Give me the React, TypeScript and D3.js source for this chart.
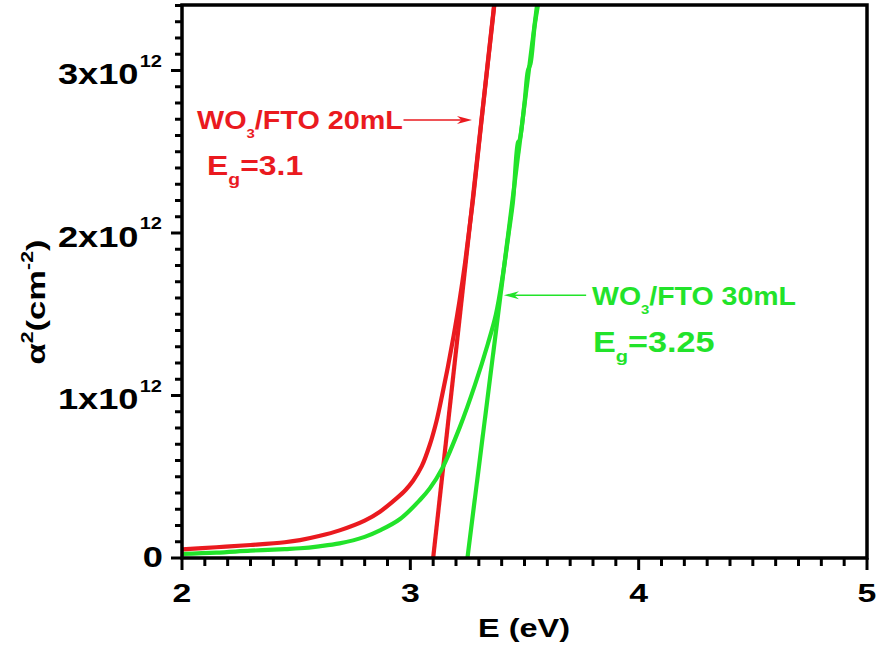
import React from "react";
import * as d3 from "d3";

// Absorption-edge (Tauc) data: photon energy E (eV) and alpha^2 (units of 1e12 cm^-2)
const redE = [2.0, 2.15, 2.3, 2.45, 2.517, 2.6, 2.69, 2.8, 2.867, 2.942, 2.98, 3.012, 3.05, 3.086, 3.115, 3.139, 3.165, 3.19, 3.215, 3.24, 3.274, 3.31, 3.37];
const redA = [0.053, 0.066, 0.08, 0.097, 0.11, 0.135, 0.17, 0.23, 0.285, 0.37, 0.42, 0.475, 0.565, 0.7, 0.845, 1.0, 1.18, 1.37, 1.58, 1.82, 2.2, 2.67, 3.43];

const greenE = [2.0, 2.15, 2.3, 2.45, 2.517, 2.6, 2.69, 2.8, 2.867, 2.955, 3.042, 3.086, 3.139, 3.218, 3.283, 3.34, 3.375, 3.405, 3.43, 3.45, 3.472, 3.478, 3.5, 3.515, 3.526, 3.545, 3.565];
const greenA = [0.025, 0.033, 0.045, 0.055, 0.06, 0.072, 0.09, 0.13, 0.17, 0.24, 0.357, 0.43, 0.55, 0.81, 1.065, 1.32, 1.5, 1.74, 1.99, 2.2, 2.56, 2.57, 2.8, 3.0, 3.04, 3.28, 3.45];

// Linear extrapolations to the energy axis (band gap)
const redFitE = [3.1, 3.367];
const redFitA = [0, 3.403];
const greenFitE = [3.25, 3.555];
const greenFitA = [0, 3.403];

// Axes
const xDomain = [2, 5];
const yDomain = [0, 3.403];
const xMajorTicks = [2, 3, 4, 5];
const xTickLabels = ["2", "3", "4", "5"];
const yMajorTicks = [0, 1, 2, 3];
const yTickLabels = ["0", "1x10", "2x10", "3x10"];
const yTickExponents = ["", "12", "12", "12"];

// Annotations
const redLabel = "20mL";
const redGap = "3.1";
const greenLabel = "30mL";
const greenGap = "3.25";
const redArrow = { from: [2.97, 2.695], to: [3.27, 2.695] };
const greenArrow = { from: [3.77, 1.617], to: [3.41, 1.617] };

const RED = "#ea1a1f";
const GREEN = "#22e32a";
const FONT = "'Liberation Sans', Arial, sans-serif";

const W = 878;
const H = 646;
const plot = { left: 182, right: 867, top: 5, bottom: 558 };

function zip(es: number[], as: number[]) {
  return es.map((e, i) => [e, as[i]] as [number, number]);
}

export default function App() {
  const x = d3.scaleLinear().domain(xDomain).range([plot.left, plot.right]);
  const y = d3.scaleLinear().domain(yDomain).range([plot.bottom, plot.top]);

  const curve = d3
    .line<[number, number]>()
    .x((d) => x(d[0]))
    .y((d) => y(d[1]))
    .curve(d3.curveCatmullRom.alpha(0.5));
  const straight = d3
    .line<[number, number]>()
    .x((d) => x(d[0]))
    .y((d) => y(d[1]));

  const xMinor = d3.range(20, 51).map((v) => v / 10).filter((v) => !xMajorTicks.includes(v));
  const yMinor = d3.range(0, 35).map((v) => v / 10).filter((v) => !yMajorTicks.includes(v) && v <= yDomain[1]);

  const arrow = (a: { from: number[]; to: number[] }, color: string) => {
    const x1 = x(a.from[0]);
    const x2 = x(a.to[0]);
    const yy = y(a.to[1]);
    const dir = x2 > x1 ? 1 : -1;
    const hl = 15;
    const hw = 4;
    return (
      <g>
        <line x1={x1} y1={yy} x2={x2 - dir * hl * 0.6} y2={yy} stroke={color} strokeWidth={1.6} />
        <path d={`M${x2},${yy} L${x2 - dir * hl},${yy - hw} L${x2 - dir * hl * 0.7},${yy} L${x2 - dir * hl},${yy + hw} Z`} fill={color} />
      </g>
    );
  };

  return (
    <svg width={W} height={H} style={{ position: "absolute", left: 0, top: 0, background: "#fff" }} fontFamily={FONT}>
      <defs>
        <clipPath id="plotclip">
          <rect x={plot.left} y={plot.top} width={plot.right - plot.left} height={plot.bottom - plot.top} />
        </clipPath>
      </defs>

      {/* data */}
      <g clipPath="url(#plotclip)" fill="none" strokeWidth={4.2} strokeLinejoin="round">
        <path d={straight(zip(redFitE, redFitA)) || ""} stroke={RED} />
        <path d={straight(zip(greenFitE, greenFitA)) || ""} stroke={GREEN} />
        <path d={curve(zip(greenE, greenA)) || ""} stroke={GREEN} />
        <path d={curve(zip(redE, redA)) || ""} stroke={RED} />
      </g>

      {/* frame */}
      <rect x={plot.left} y={plot.top} width={plot.right - plot.left} height={plot.bottom - plot.top} fill="none" stroke="#000" strokeWidth={3.5} />

      {/* ticks */}
      <g stroke="#000" strokeWidth={3}>
        {xMajorTicks.map((t) => (
          <line key={"xM" + t} x1={x(t)} x2={x(t)} y1={plot.bottom} y2={plot.bottom + 12} />
        ))}
        {xMinor.map((t) => (
          <line key={"xm" + t} x1={x(t)} x2={x(t)} y1={plot.bottom} y2={plot.bottom + 8} />
        ))}
        {yMajorTicks.map((t) => (
          <line key={"yM" + t} y1={y(t)} y2={y(t)} x1={plot.left} x2={plot.left - 11} />
        ))}
        {yMinor.map((t) => (
          <line key={"ym" + t} y1={y(t)} y2={y(t)} x1={plot.left} x2={plot.left - 7} />
        ))}
      </g>

      {/* x tick labels */}
      {xMajorTicks.map((t, i) => (
        <text key={"xl" + t} transform={`translate(${x(t)},602) scale(1.3,1)`} textAnchor="middle" fontSize={26} fontWeight="bold">
          {xTickLabels[i]}
        </text>
      ))}

      {/* y tick labels */}
      {yMajorTicks.map((t, i) => (
        <text
          key={"yl" + t}
          transform={`translate(${yTickExponents[i] ? 162 : 163},${y(t) + (yTickExponents[i] ? 14 : 9)}) scale(1.25,1)`}
          textAnchor="end"
          fontSize={29}
          fontWeight="bold"
        >
          {yTickLabels[i]}
          {yTickExponents[i] && (
            <tspan fontSize={16} dy={-18} dx={1}>
              {yTickExponents[i]}
            </tspan>
          )}
        </text>
      ))}

      {/* axis titles */}
      <text transform="translate(524,637) scale(1.3,1)" textAnchor="middle" fontSize={25} fontWeight="bold">
        E (eV)
      </text>
      <text transform="translate(45,302) rotate(-90) scale(1.33,1)" textAnchor="middle" fontSize={26} fontWeight="bold">
        α<tspan fontSize={16} dy={-12}>2</tspan>
        <tspan dy={12}>(cm</tspan>
        <tspan fontSize={16} dy={-12}>-2</tspan>
        <tspan dy={12}>)</tspan>
      </text>

      {/* annotations */}
      <g fill={RED} fontWeight="bold">
        <text transform="translate(197,129) scale(1.15,1)" fontSize={25}>
          WO<tspan fontSize={13} dy={9}>3</tspan>
          <tspan dy={-9}>/FTO {redLabel}</tspan>
        </text>
        <text transform="translate(207,175) scale(1.14,1)" fontSize={28}>
          E<tspan fontSize={17} dy={10}>g</tspan>
          <tspan dy={-10}>={redGap}</tspan>
        </text>
      </g>
      {arrow(redArrow, RED)}

      <g fill={GREEN} fontWeight="bold">
        <text transform="translate(592,305) scale(1.14,1)" fontSize={25}>
          WO<tspan fontSize={13} dy={9}>3</tspan>
          <tspan dy={-9}>/FTO {greenLabel}</tspan>
        </text>
        <text transform="translate(593,352) scale(1.18,1)" fontSize={29}>
          E<tspan fontSize={17} dy={10}>g</tspan>
          <tspan dy={-10}>={greenGap}</tspan>
        </text>
      </g>
      {arrow(greenArrow, GREEN)}
    </svg>
  );
}
